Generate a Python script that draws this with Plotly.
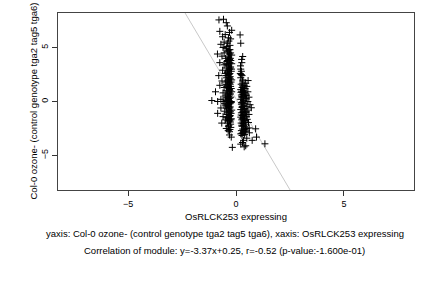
import plotly.graph_objects as go

# Left cluster points (x, y)
left_pts = [(-0.79,7.56),(-0.58,7.62),(-0.45,7.3),(-0.40,7.0),(-0.20,6.6),(-0.75,6.5),(-0.50,6.2),(-0.30,6.4),
(-0.62,6.0),(-0.35,5.9),(-0.25,5.8),(-0.55,5.5),(-0.70,5.3),(-0.40,5.4),(-0.28,5.2),(-0.60,5.0),(-0.45,4.9),
(-0.32,4.8),(-0.86,4.4),(-0.55,4.5),(-0.40,4.6),(-0.25,4.5),(-0.20,4.3),(-0.65,4.2),(-0.35,4.1),(-0.48,4.0),
(-0.30,3.9),(-0.75,3.6),(-0.42,3.7),(-0.28,3.6),(-0.20,3.5),(-0.55,3.4),(-0.35,3.3),(-0.25,3.2),(-0.45,3.1),
(-0.30,3.0),(-0.62,2.9),(-0.38,2.8),(-0.22,2.8),(-0.50,2.6),(-0.32,2.5),(-0.80,2.4),(-0.27,2.3),(-0.43,2.2),
(-0.35,2.0),(-0.20,2.0),(-0.65,1.9),(-0.48,1.8),(-0.30,1.7),(-0.75,1.5),(-0.38,1.5),(-0.25,1.4),(-0.55,1.3),
(-0.33,1.2),(-0.45,1.0),(-0.28,1.0),(-0.20,0.9),(-0.60,0.8),(-0.38,0.7),(-0.30,0.6),(-0.50,0.5),(-0.25,0.4),
(-0.35,0.3),(-0.95,0.9),(-0.70,0.2),(-0.45,0.1),(-0.30,0.05),(-1.12,0.09),(-0.85,0.0),(-0.60,0.0),(-0.40,-0.05),
(-0.22,-0.1),(-0.55,-0.2),(-0.33,-0.3),(-0.48,-0.4),(-0.27,-0.5),(-0.70,-0.6),(-0.38,-0.7),(-0.20,-0.8),
(-0.52,-0.9),(-0.32,-1.0),(-0.85,-1.1),(-0.43,-1.2),(-0.27,-1.3),(-0.60,-1.4),(-0.35,-1.5),(-0.22,-1.6),
(-0.48,-1.7),(-0.30,-1.8),(-0.66,-2.0),(-0.40,-2.0),(-0.25,-2.1),(-0.35,-2.3),(-0.45,-2.5),(-0.28,-2.6),
(-0.22,-3.3),(-0.30,-3.1),(-0.17,-4.25),
(-0.30,4.4),(-0.36,4.2),(-0.26,4.0),(-0.40,3.8),(-0.32,3.5),(-0.38,3.4),(-0.27,3.1),(-0.34,2.9),(-0.40,2.7),
(-0.28,2.6),(-0.36,2.4),(-0.31,2.2),(-0.26,2.1),(-0.39,1.9),(-0.33,1.8),(-0.27,1.6),(-0.42,1.4),(-0.35,1.3),
(-0.30,1.1),(-0.38,0.9),(-0.32,0.8),(-0.26,0.7),(-0.41,0.6),(-0.34,0.45),(-0.29,0.3),(-0.37,0.2),(-0.31,-0.1),
(-0.27,-0.2),(-0.40,-0.3),(-0.35,-0.45),(-0.29,-0.6),(-0.32,-0.85),(-0.26,-0.95),(-0.41,-1.05),(-0.34,-1.2),
(-0.29,-1.4),(-0.37,-1.55),(-0.31,-1.7),(-0.26,-1.9),(-0.33,-2.2),(-0.39,-1.8),(-0.24,-2.4),(-0.36,-2.7),
(-0.30,-2.8),(-0.36,4.7),(-0.28,4.8),(-0.42,5.1),(-0.33,5.6),(-0.24,3.8),(-0.46,3.5),(-0.21,3.0),(-0.47,2.4),
(-0.23,1.8),(-0.46,1.6),(-0.22,1.2),(-0.47,0.35),(-0.22,0.0),(-0.44,-0.6),(-0.23,-1.1),(-0.45,-1.5),(-0.24,-1.7)]

# Right cluster points (x, y)
right_pts = [(0.19,6.17),(0.22,5.4),(0.31,4.17),(0.27,3.6),(0.22,3.0),(0.25,2.8),(0.20,2.6),(0.28,2.4),(0.22,2.2),
(0.56,1.94),(0.30,1.9),(0.45,1.7),(0.24,1.6),(0.38,1.5),(0.50,1.4),(0.28,1.3),(0.42,1.2),(0.22,1.1),(0.35,1.0),
(0.55,0.9),(0.30,0.8),(0.45,0.7),(0.25,0.6),(0.38,0.5),(0.60,0.4),(0.28,0.35),(0.48,0.25),(0.22,0.2),(0.35,0.1),
(0.55,0.0),(0.30,-0.05),(0.42,-0.15),(0.25,-0.25),(0.65,-0.3),(0.36,-0.35),(0.50,-0.45),(0.71,-0.58),(0.28,-0.55),
(0.40,-0.65),(0.22,-0.75),(0.55,-0.8),(0.33,-0.9),(0.45,-1.0),(0.25,-1.05),(0.38,-1.15),(0.60,-1.2),(0.30,-1.3),
(0.48,-1.4),(0.22,-1.45),(0.35,-1.55),(0.52,-1.65),(0.27,-1.7),(0.42,-1.8),(0.32,-1.9),(0.58,-1.95),(0.24,-2.0),
(0.45,-2.1),(0.35,-2.2),(0.28,-2.3),(0.61,-2.45),(0.91,-2.53),(0.50,-2.5),(0.38,-2.6),(0.25,-2.7),(0.45,-2.8),
(0.32,-2.9),(0.22,-3.0),(0.40,-3.05),(0.28,-3.15),(0.95,-3.3),(0.50,-3.4),(0.35,-3.6),(0.22,-3.95),(0.30,-3.8),
(0.38,-4.2),(0.45,-4.1),(1.34,-3.92),(0.75,-3.6),(0.62,-2.9),
(0.30,1.45),(0.36,1.25),(0.26,0.95),(0.40,0.85),(0.32,0.65),(0.27,0.45),(0.43,0.3),(0.33,-0.2),(0.29,-0.45),
(0.37,-0.7),(0.31,-1.0),(0.41,-1.25),(0.34,-1.45),(0.29,-1.6),(0.39,-1.75),(0.33,-2.05),(0.27,-2.2),(0.41,-2.35),
(0.31,-2.55),(0.36,-2.8),(0.27,-2.95),(0.44,-2.65),(0.24,-1.25),(0.47,-0.95),(0.26,-0.1),(0.47,0.55),(0.23,0.85),
(0.32,2.0),(0.24,2.5),(0.21,3.3),(0.26,3.9),(0.30,1.7)]

pts = left_pts + right_pts
xs = [p[0] for p in pts]
ys = [p[1] for p in pts]

slope = -3.37
intercept = 0.25
x_range = [-8.25, 8.25]
y_range = [-8.2, 8.2]
tick_vals = [-5, 0, 5]

# regression line clipped to y range
line_x = [(y_range[1] - intercept) / slope, (y_range[0] - intercept) / slope]
line_y = [slope * x + intercept for x in line_x]

x_title = "OsRLCK253 expressing"
y_title = "Col-0 ozone- (control genotype tga2 tag5 tga6)"
caption1 = "yaxis: Col-0 ozone- (control genotype tga2 tag5 tga6), xaxis: OsRLCK253 expressing"
caption2 = "Correlation of module: y=-3.37x+0.25, r=-0.52 (p-value:-1.600e-01)"

font = "Liberation Sans, Arial, sans-serif"

fig = go.Figure()
fig.add_trace(go.Scatter(x=line_x, y=line_y, mode="lines",
                         line=dict(color="#c8c8c8", width=1), hoverinfo="skip"))
fig.add_trace(go.Scatter(x=xs, y=ys, mode="markers",
                         marker=dict(symbol="cross-thin", size=5, color="black",
                                     line=dict(color="black", width=1))))

fig.update_layout(
    width=432, height=288,
    margin=dict(l=58, r=18, t=13, b=98),
    paper_bgcolor="white", plot_bgcolor="white",
    showlegend=False,
    font=dict(family=font, size=9, color="black"),
    xaxis=dict(range=x_range, tickvals=tick_vals, ticks="outside", ticklen=5,
               tickcolor="#333", showgrid=False, zeroline=False,
               showline=True, linecolor="#444", linewidth=1, mirror=True,
               tickfont=dict(size=9)),
    yaxis=dict(range=y_range, tickvals=tick_vals, ticks="outside", ticklen=5,
               tickcolor="#333", showgrid=False, zeroline=False,
               showline=True, linecolor="#444", linewidth=1, mirror=True,
               tickangle=-90, tickfont=dict(size=9)),
    annotations=[
        dict(text=x_title, xref="x", yref="paper", x=0, y=0, xanchor="center",
             yanchor="middle", yshift=-26, showarrow=False, font=dict(size=9.5)),
        dict(text=y_title, xref="paper", yref="y", x=0, y=0, xanchor="center",
             yanchor="middle", xshift=-25, textangle=-90, showarrow=False, font=dict(size=9.5)),
        dict(text=caption1, xref="paper", yref="paper", x=0.5, y=0, xanchor="center",
             yanchor="middle", xshift=-11, yshift=-43, showarrow=False, font=dict(size=9.5)),
        dict(text=caption2, xref="paper", yref="paper", x=0.5, y=0, xanchor="center",
             yanchor="middle", xshift=-12, yshift=-60, showarrow=False, font=dict(size=9.5)),
    ],
)

fig.write_html("out.html")
